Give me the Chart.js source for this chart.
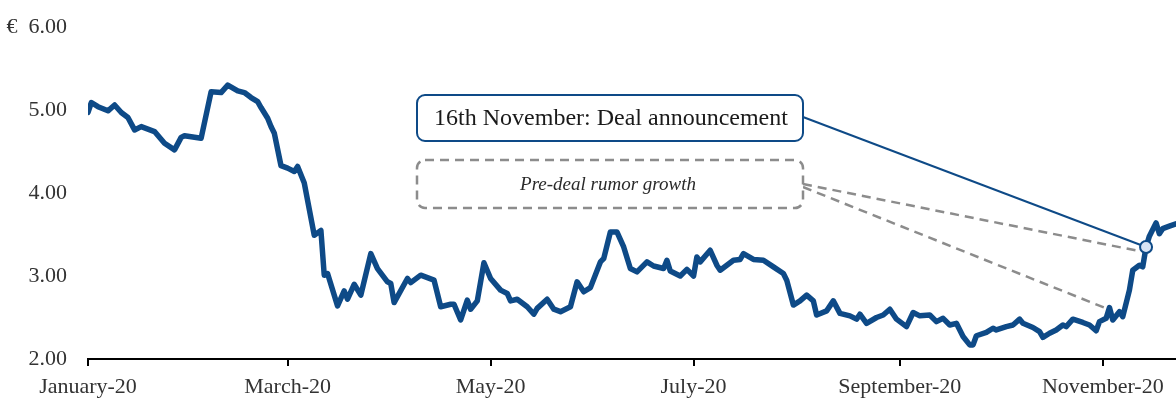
<!DOCTYPE html>
<html lang="en">
<head>
<meta charset="UTF-8">
<title>Share price 2020</title>
<script src="https://cdn.jsdelivr.net/npm/chart.js"></script>
<style>
  body { margin: 0; background: #fff; }
  #wrap { width: 1176px; height: 399px; }
</style>
</head>
<body>
<div id="wrap"><canvas id="chart" width="1176" height="399"></canvas></div>
<script>
  // x = day of 2020 (0 = 1 January), y = share price in EUR
  const days = [0, 1, 3, 6, 8, 10, 12, 14, 16, 20, 23, 26, 28, 29, 34, 37, 40, 42, 45, 47, 49, 51, 52, 54, 55, 56, 58,
    60, 62, 63, 65, 68, 70, 71, 72, 75, 77, 78, 80, 82, 85, 87, 90, 91, 92, 96, 97, 100, 104, 106, 109, 110, 112,
    114, 115, 117, 119, 121, 124, 126, 127, 129, 132, 134, 135, 138, 140, 142, 145, 147, 149, 151, 154, 155, 157,
    159, 161, 163, 165, 168, 170, 173, 174, 175, 178, 180, 182, 183, 184, 187, 189, 190, 194, 196, 197, 200, 203,
    206, 209, 210, 212, 214, 216, 218, 219, 222, 224, 226, 229, 231, 232, 234, 237, 239, 241, 243, 246, 248, 250,
    253, 255, 257, 259, 261, 263, 265, 266, 267, 270, 272, 273, 276, 278, 280, 281, 284, 286, 287, 289, 291, 293,
    294, 296, 299, 301, 303, 304, 306, 307, 308, 310, 311, 313, 314, 316, 317, 318, 319, 321, 322, 323, 325, 327];
  const prices = [4.97, 5.09, 5.04, 4.99, 5.06, 4.97, 4.91, 4.76, 4.80, 4.74, 4.60, 4.52, 4.67, 4.69, 4.66, 5.22,
    5.21, 5.30, 5.23, 5.21, 5.15, 5.10, 5.03, 4.90, 4.80, 4.72, 4.33,
    4.30, 4.26, 4.32, 4.12, 3.49, 3.55, 3.01, 3.03, 2.64, 2.82, 2.72, 2.90, 2.77, 3.27, 3.09, 2.93, 2.91, 2.68,
    2.97, 2.92, 3.01, 2.95, 2.63, 2.66, 2.66, 2.47,
    2.71, 2.60, 2.70, 3.16, 2.97, 2.83, 2.79, 2.70, 2.72, 2.63, 2.54, 2.61, 2.72, 2.60, 2.57, 2.63, 2.93, 2.81,
    2.86, 3.17, 3.21, 3.53,
    3.53, 3.35, 3.09, 3.05, 3.17, 3.12, 3.09, 3.19, 3.06, 3.00, 3.08, 3.00, 3.23, 3.17, 3.31, 3.13, 3.07, 3.19,
    3.20, 3.27, 3.20, 3.19,
    3.11, 3.03, 2.95, 2.65, 2.70, 2.77, 2.70, 2.53, 2.58, 2.70, 2.55, 2.52, 2.48, 2.54, 2.43, 2.50, 2.53, 2.60,
    2.48, 2.39, 2.56, 2.52,
    2.53, 2.45, 2.49, 2.41, 2.43, 2.27, 2.17, 2.17, 2.28, 2.32, 2.37, 2.35, 2.39, 2.41, 2.48, 2.43, 2.38, 2.33,
    2.26, 2.31, 2.35, 2.41,
    2.39, 2.48, 2.44, 2.41, 2.34, 2.45, 2.49, 2.62, 2.47, 2.57, 2.51, 2.83, 3.07, 3.13, 3.11, 3.35, 3.48, 3.64,
    3.51, 3.57, 3.60, 3.63];

  const monthDays = [0, 60, 121, 182, 244, 305];
  const monthLabels = ["January-20", "March-20", "May-20", "July-20", "September-20", "November-20"];
  const priceTicks = [2, 3, 4, 5, 6];

  // announcement point and where the rumour connectors end
  const dealDay = 318, dealPrice = 3.35;
  const rumorDays = [316, 306];
  const rumorPrices = [3.30, 2.61];

  const blue = "#0e4a87";
  const serif = "'Liberation Serif', 'DejaVu Serif', serif";

  const notes = {
    id: "notes",
    beforeDatasetsDraw(chart) {
      const { ctx, scales: { x, y } } = chart;
      ctx.save();
      ctx.strokeStyle = blue;
      ctx.lineWidth = 2;
      ctx.beginPath();
      ctx.moveTo(803, 117);
      ctx.lineTo(x.getPixelForValue(dealDay), y.getPixelForValue(dealPrice));
      ctx.stroke();

      ctx.strokeStyle = "#8c8c8c";
      ctx.lineWidth = 2.5;
      ctx.setLineDash([9, 6]);
      rumorDays.forEach((d, i) => {
        ctx.beginPath();
        ctx.moveTo(803, 184 + i * 3);
        ctx.lineTo(x.getPixelForValue(d), y.getPixelForValue(rumorPrices[i]));
        ctx.stroke();
      });
      ctx.restore();
    },
    afterDraw(chart) {
      const ctx = chart.ctx;
      ctx.save();
      // deal announcement box
      ctx.beginPath();
      ctx.roundRect(417, 95, 386, 46, 8);
      ctx.fillStyle = "#fff";
      ctx.fill();
      ctx.strokeStyle = blue;
      ctx.lineWidth = 2;
      ctx.stroke();
      ctx.fillStyle = "#1a1a1a";
      ctx.font = "24px " + serif;
      ctx.textAlign = "center";
      ctx.textBaseline = "middle";
      ctx.fillText("16th November: Deal announcement", 611, 119);

      // rumour box
      ctx.beginPath();
      ctx.roundRect(417, 160, 386, 48, 8);
      ctx.fillStyle = "#fff";
      ctx.fill();
      ctx.setLineDash([9, 6]);
      ctx.strokeStyle = "#8c8c8c";
      ctx.lineWidth = 2.5;
      ctx.stroke();
      ctx.fillStyle = "#2a2a2a";
      ctx.font = "italic 19px " + serif;
      ctx.fillText("Pre-deal rumor growth", 608, 185);
      ctx.restore();
    }
  };

  new Chart(document.getElementById("chart"), {
    type: "line",
    data: {
      datasets: [
        {
          data: days.map((d, i) => ({ x: d, y: prices[i] })),
          order: 2,
          borderColor: blue,
          borderWidth: 5.5,
          borderJoinStyle: "round",
          borderCapStyle: "round",
          pointRadius: 0,
          tension: 0,
          fill: false
        },
        {
          data: [{ x: dealDay, y: dealPrice }],
          order: 1,
          showLine: false,
          pointRadius: 6,
          pointBackgroundColor: "#d9e4f4",
          pointBorderColor: blue,
          pointBorderWidth: 2
        }
      ]
    },
    options: {
      responsive: false,
      animation: false,
      devicePixelRatio: 1,
      layout: { autoPadding: false, padding: { top: 27, right: 0, bottom: 0, left: 0 } },
      plugins: { legend: { display: false }, tooltip: { enabled: false } },
      scales: {
        x: {
          type: "linear",
          min: 0,
          max: 327,
          afterBuildTicks: s => { s.ticks = monthDays.map(v => ({ value: v })); },
          afterFit: s => { s.height = 40; },
          grid: { drawOnChartArea: false, drawTicks: true, tickLength: 7, color: "#000", lineWidth: 2 },
          border: { display: true, color: "#000", width: 2 },
          ticks: {
            autoSkip: false,
            maxRotation: 0,
            padding: 8,
            color: "#333",
            font: { family: serif, size: 22 },
            callback: v => monthLabels[monthDays.indexOf(v)]
          }
        },
        y: {
          min: 2,
          max: 6,
          afterBuildTicks: s => { s.ticks = priceTicks.map(v => ({ value: v })); },
          afterFit: s => { s.width = 88; },
          grid: { display: false },
          border: { display: false },
          ticks: {
            padding: 13,
            color: "#333",
            font: { family: serif, size: 22 },
            callback: v => (v === 6 ? "€  " : "") + v.toFixed(2)
          }
        }
      }
    },
    plugins: [notes]
  });
</script>
</body>
</html>
